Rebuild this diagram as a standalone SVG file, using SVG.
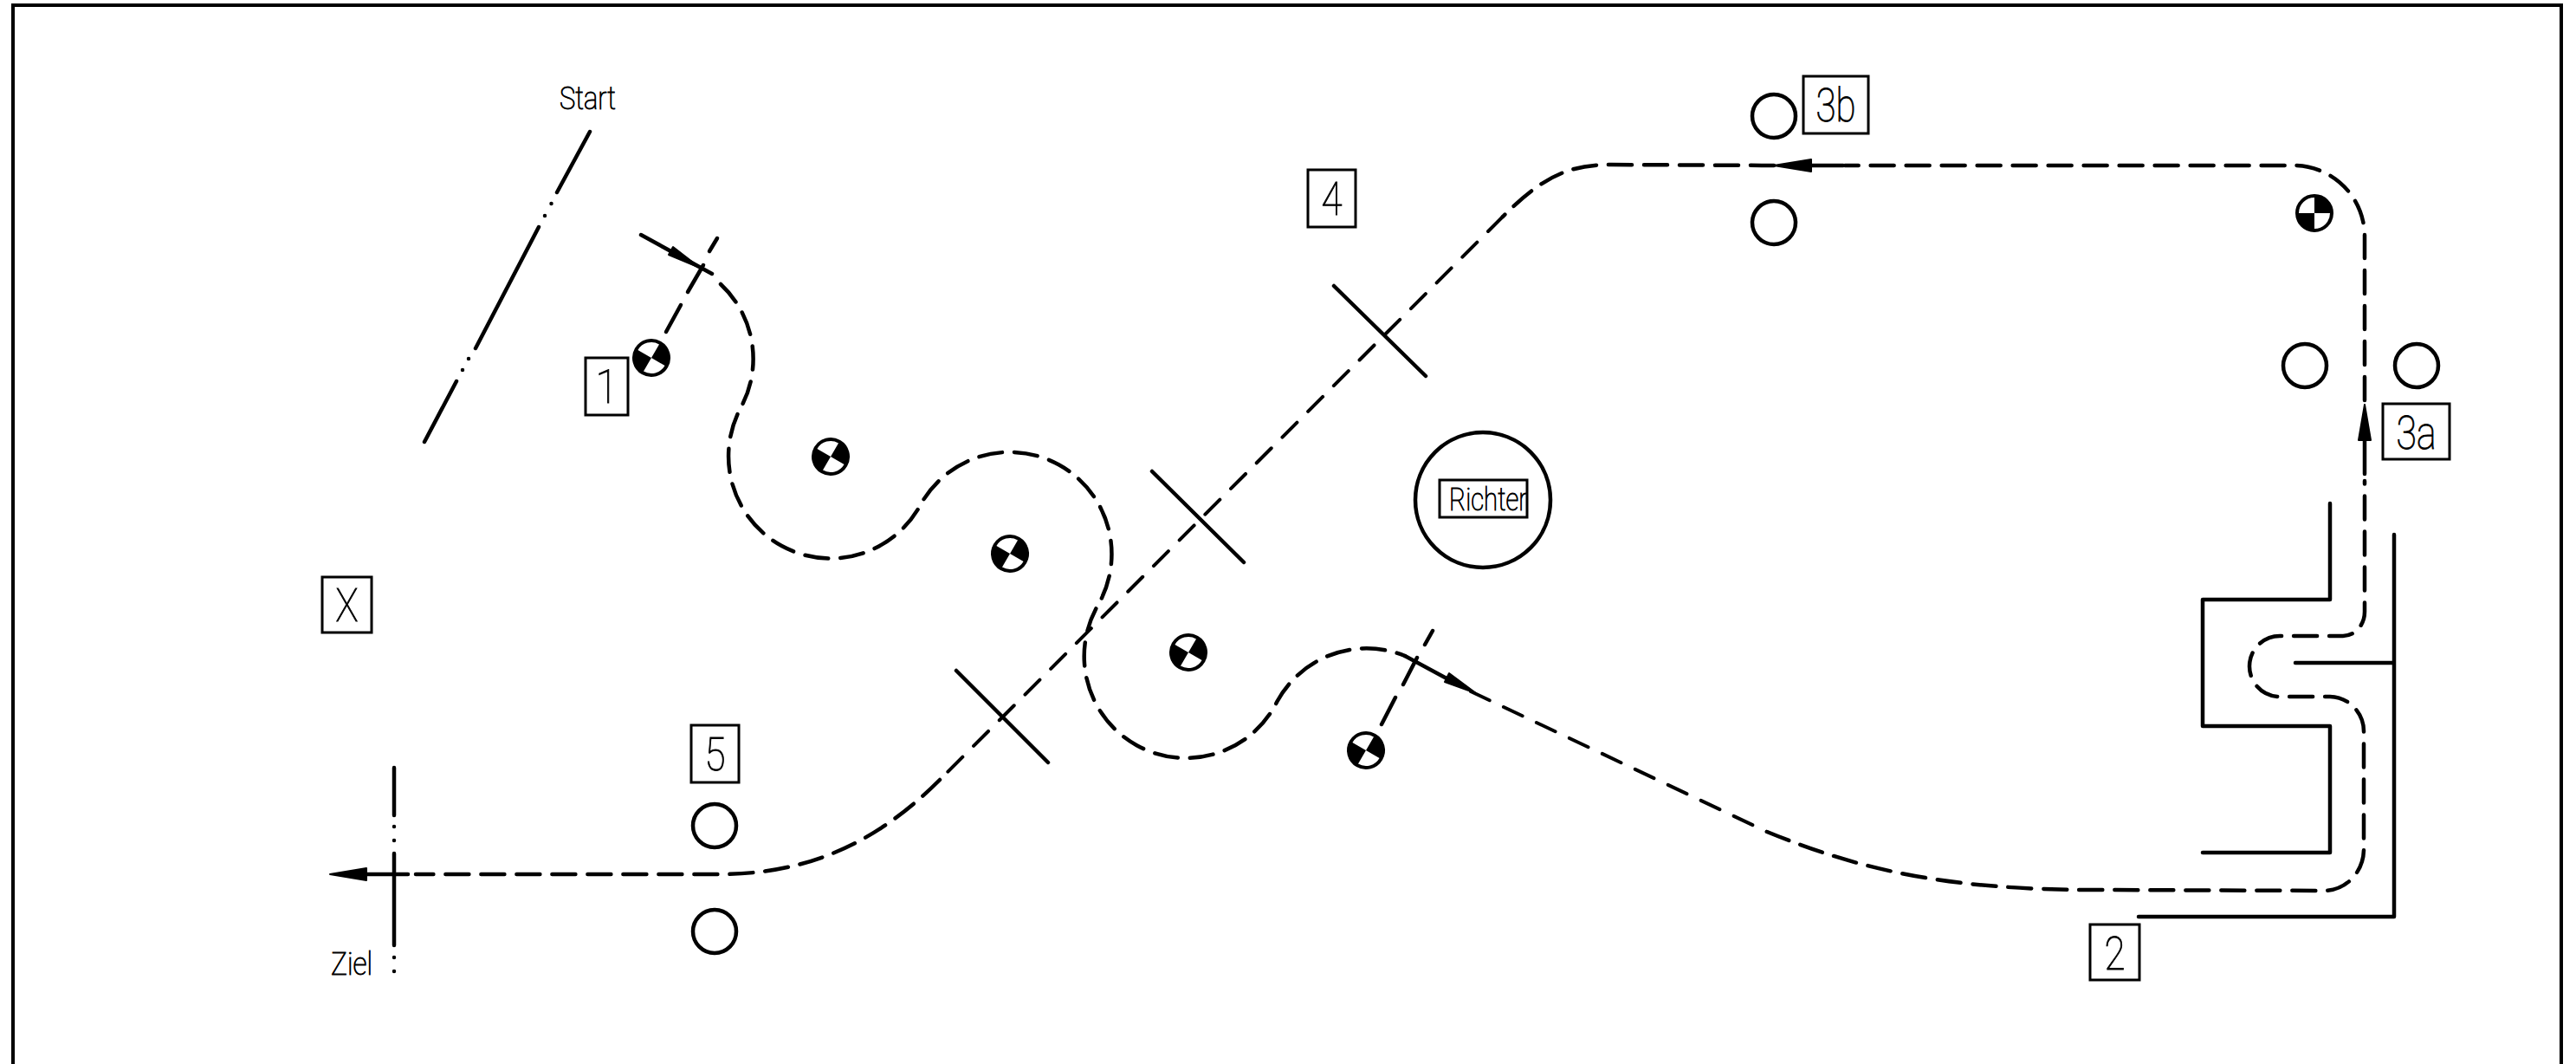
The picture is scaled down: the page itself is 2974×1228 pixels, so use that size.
<svg xmlns="http://www.w3.org/2000/svg" width="2974" height="1228" viewBox="0 0 2974 1228">
<style>
.l{fill:none;stroke:#000;stroke-width:4.500;stroke-linecap:round;stroke-linejoin:round}
.d{stroke-dasharray:27 14}
.e{stroke-width:4;stroke-dasharray:24 18}
.b{fill:none;stroke:#000;stroke-width:3}
.a{fill:#000;stroke:#000;stroke-width:2;stroke-linejoin:round}
text{font-family:Roboto,"Liberation Sans",sans-serif;font-weight:100;fill:#000;stroke:#000;stroke-width:1}
.n{font-size:53px}
.s{font-size:36px}
</style>
<defs>
<g id="cog">
<circle r="20" fill="#fff" stroke="#000" stroke-width="4"/>
<path d="M0 0V-20A20 20 0 0 1 20 0ZM0 0V20A20 20 0 0 1 -20 0Z" fill="#000"/>
</g>
</defs>
<rect id="frame" x="15" y="6" width="2942" height="1260" fill="none" stroke="#000" stroke-width="4"/>
<g id="connectors">
<path class="l" d="M681 152L643 222M636.500 235V235.100M629 249V249.100M622 262L549 402M541 414V414.100M534 427V427.100M527 440L490 510"/>
<path class="l" d="M740 271L822 316"/>
<path class="a" d="M808 309L777 285L772 294Z"/>
<path class="l" d="M769 383L786 352M794 337L812 306M819 290L828 275"/>
<path class="l" d="M1595 836L1611 805M1620 790L1636 759M1645 744L1654 728"/>
<path class="l d" d="M832 328A117.500 117.500 0 0 1 855.500 470A117.500 117.500 0 1 0 1062.500 583A117.500 117.500 0 1 1 1269 696A117.500 117.500 0 1 0 1474.500 809.500A117.500 117.500 0 0 1 1622 757"/>
<path class="l" d="M1622 757L1672 784"/>
<path class="a" d="M1704 800L1673 777L1668 787Z"/>
<path class="l e" d="M1698 798L2040 960"/>
<path class="l d" d="M2040 960C2150 1005 2250 1027 2420 1027L2683 1028A46 48 0 0 0 2729 980L2729 844A40 40 0 0 0 2690 804L2632 804A35 35 0 0 1 2632 734L2705 734A25 28 0 0 0 2730 706L2730 555"/>
<path class="l" d="M2730 547V505"/>
<path class="a" d="M2730 467L2723 508H2737Z"/>
<path class="l d" d="M2730 462L2730 273A82 82 0 0 0 2645 191L2130 191"/>
<path class="l" d="M2128 191H2088"/>
<path class="a" d="M2048 191L2091 184V198Z"/>
<path class="l d" d="M2048 191L1860 190C1810 190 1780 205 1735 250"/>
<path class="l e" d="M1735 250L1085 900"/>
<path class="l d" d="M1085 900C1010 975 930 1009 830 1009L480 1009"/>
<path class="l" d="M471 1009H420"/>
<path class="a" d="M381 1009L423 1002V1016Z"/>
<path class="l" d="M455 886V941M455 954V954.100M455 970V970.100M455 985V1091M455 1105V1105.100M455 1121V1121.100"/>
<path class="l" d="M1540 330L1646 434M1330 544L1436 649M1104 774L1210 880"/>
</g>
<g id="walls"><path class="l" d="M2690 581V692H2543V838H2690V984H2543M2764 617V1058H2469M2764 765H2650"/></g>
<g id="cog1"><use href="#cog" transform="translate(752 413) rotate(30)"/></g>
<g id="cog2"><use href="#cog" transform="translate(959 527) rotate(30)"/></g>
<g id="cog3"><use href="#cog" transform="translate(1166 639) rotate(30)"/></g>
<g id="cog4"><use href="#cog" transform="translate(1372 753) rotate(30)"/></g>
<g id="cog5"><use href="#cog" transform="translate(1577 866) rotate(30)"/></g>
<g id="cog6"><use href="#cog" transform="translate(2672 246)"/></g>
<g id="gates" class="l">
<circle cx="2048" cy="134" r="25"/><circle cx="2048" cy="257" r="25"/>
<circle cx="2661" cy="422" r="25"/><circle cx="2790" cy="422" r="25"/>
<circle cx="825" cy="953" r="25"/><circle cx="825" cy="1075" r="25"/>
</g>
<g id="judge"><circle class="l" cx="1712" cy="577" r="78"/><rect class="b" x="1662" y="554" width="101" height="43"/><text class="s" x="1673" y="589" textLength="90" lengthAdjust="spacingAndGlyphs">Richter</text></g>
<text id="start" class="s" x="646" y="126" textLength="65" lengthAdjust="spacingAndGlyphs">Start</text>
<text id="ziel" class="s" x="382" y="1125" textLength="48" lengthAdjust="spacingAndGlyphs">Ziel</text>
<g id="l1"><rect class="b" x="676" y="413" width="49" height="66"/><text class="n" x="700.500" y="465" text-anchor="middle" textLength="26" lengthAdjust="spacingAndGlyphs">1</text></g>
<g id="lX"><rect class="b" x="372" y="666" width="57" height="64"/><text class="n" x="400.500" y="717" text-anchor="middle" textLength="26" lengthAdjust="spacingAndGlyphs">X</text></g>
<g id="l5"><rect class="b" x="798" y="837" width="55" height="66"/><text class="n" x="825.500" y="889" text-anchor="middle" textLength="24" lengthAdjust="spacingAndGlyphs">5</text></g>
<g id="l4"><rect class="b" x="1510" y="196" width="55" height="66"/><text class="n" x="1537.500" y="248" text-anchor="middle" textLength="24" lengthAdjust="spacingAndGlyphs">4</text></g>
<g id="l3b"><rect class="b" x="2082" y="88" width="75" height="66"/><text class="n" x="2119.500" y="140" text-anchor="middle" textLength="46" lengthAdjust="spacingAndGlyphs">3b</text></g>
<g id="l3a"><rect class="b" x="2751" y="466" width="77" height="64"/><text class="n" x="2789.500" y="518" text-anchor="middle" textLength="46" lengthAdjust="spacingAndGlyphs">3a</text></g>
<g id="l2"><rect class="b" x="2413" y="1067" width="57" height="64"/><text class="n" x="2441.500" y="1119" text-anchor="middle" textLength="24" lengthAdjust="spacingAndGlyphs">2</text></g>
</svg>
